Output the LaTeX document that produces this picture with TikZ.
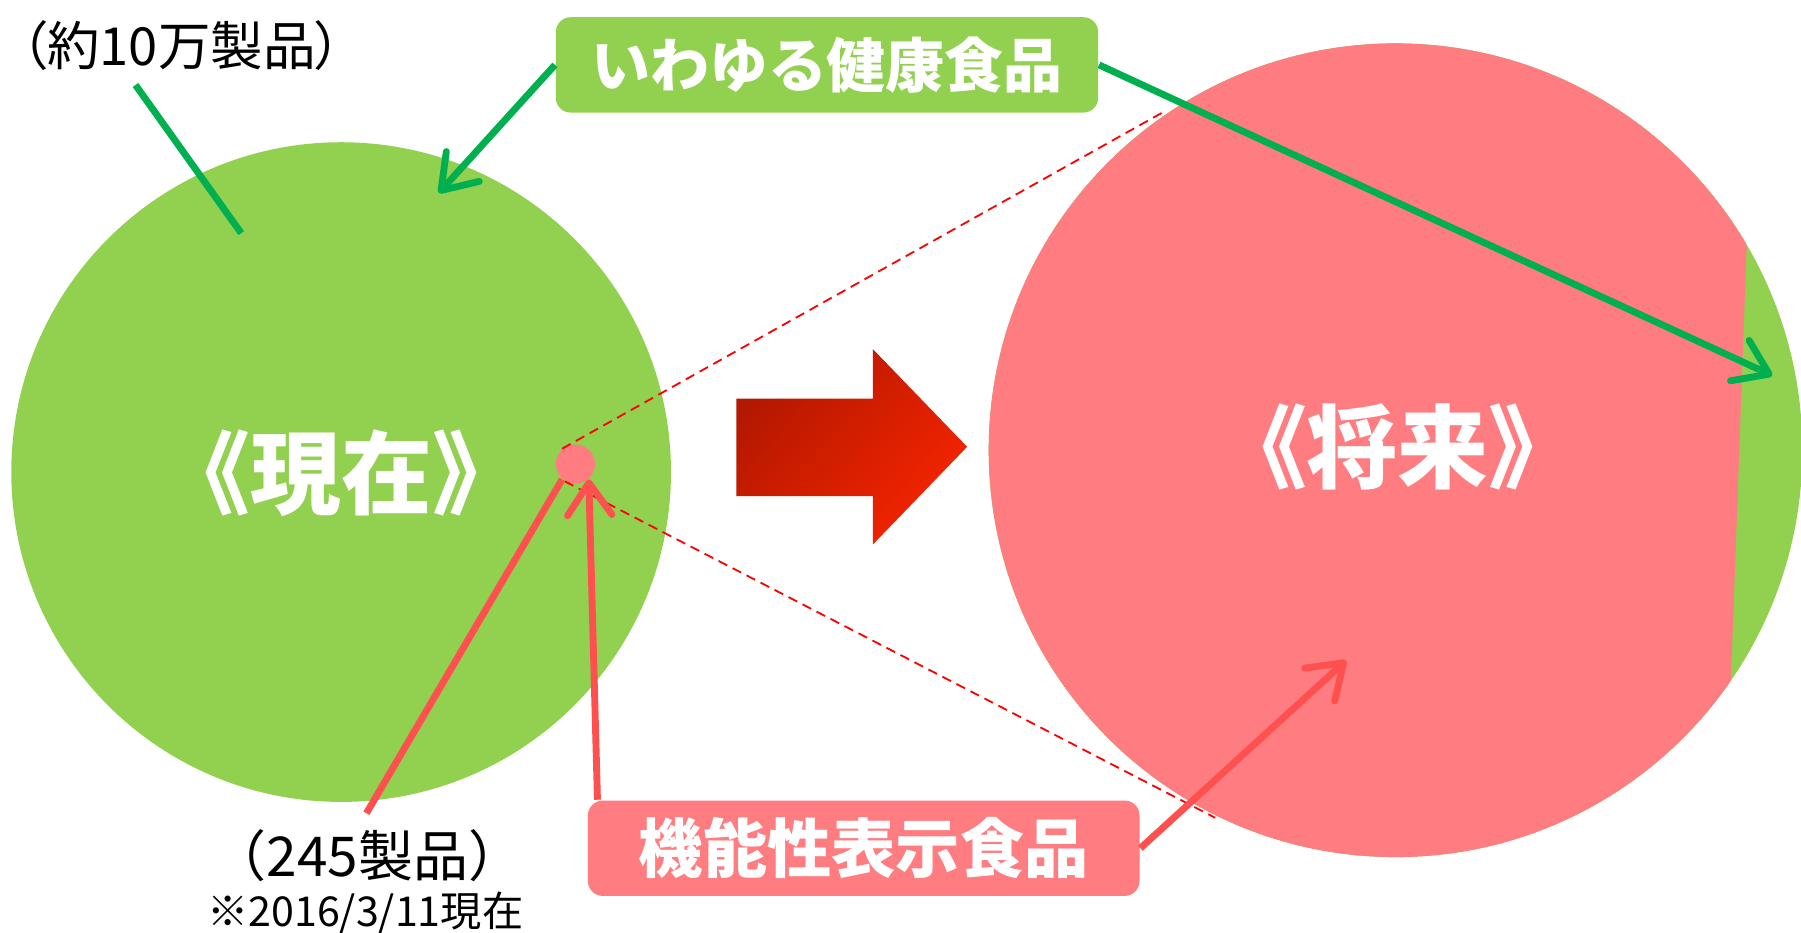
\documentclass[tikz,border=0pt]{standalone}
\usepackage{fontspec}
\setmainfont{Noto Sans CJK JP}
\newfontfamily\paltfont{Noto Sans CJK JP}[RawFeature=+palt]
\usetikzlibrary{arrows.meta}
\definecolor{lgreen}{HTML}{92D050}
\definecolor{dgreen}{HTML}{00B050}
\definecolor{lpink}{HTML}{FF7C80}
\definecolor{pinkline}{HTML}{FF5050}
\definecolor{arrdark}{HTML}{B31800}
\definecolor{arrmid}{HTML}{E01E00}
\definecolor{arrbright}{HTML}{F52400}
\begin{document}
\begin{tikzpicture}[x=0.01cm,y=-0.01cm,
  garrow/.style={draw=dgreen, line width=1.7pt, -{Straight Barb[length=8pt,width=11pt,round]}},
  gline/.style={draw=dgreen, line width=1.7pt},
  parrow/.style={draw=pinkline, line width=1.7pt, -{Straight Barb[length=8pt,width=11pt,round]}},
  pline/.style={draw=pinkline, line width=1.7pt},
  zoomline/.style={draw=red, line width=0.45pt, dash pattern=on 2.4pt off 1.5pt},
  bigtxt/.style={text=white, font=\bfseries\fontsize{22.5pt}{24pt}\selectfont, inner sep=0},
  labbox/.style={rounded corners=0.13cm, minimum height=0.83cm, inner sep=0, text=white},
  note/.style={text=black, inner sep=0}
]
\useasboundingbox (0,0) rectangle (1568,812);
\fill[white] (0,0) rectangle (1568,812);

% left circle (present)
\node[circle, fill=lgreen, minimum size=5.74cm, inner sep=0] (now) at (297,411) {};

% zoom lines (behind the big circle)
\node[circle, fill=lpink, minimum size=0.34cm, inner sep=0] (dot) at (501,404) {};
\coordinate (ue) at (1012,98);
\coordinate (le) at (1058,712);
\draw[zoomline] (dot.131) -- (ue);
\draw[zoomline] (dot.238) -- (le);

% big circle (future)
\fill[lgreen] (1215,392) circle[radius=3.54cm];
\begin{scope}
  \clip (1215,392) circle[radius=3.54cm];
  \fill[lpink] (800,0) -- (1528.5,0) -- (1499,812) -- (800,812) -- cycle;
\end{scope}
\node[circle, minimum size=7.08cm, inner sep=0] (future) at (1215,392) {};

% labels inside circles
\node[bigtxt] (nowlbl) at (297,412) {《現在》};
\node[bigtxt] (futlbl) at (1217,389) {《将来》};

% block arrow
\shade[shading=axis, top color=arrdark, middle color=arrmid, bottom color=arrbright, shading angle=50]
  (641,347) -- (760,347) -- (760,304) -- (842,389) -- (760,474) -- (760,432) -- (641,432) -- cycle;

% notes
\node[note, font=\paltfont\fontsize{13.0pt}{14pt}\selectfont] (n10) at (158,40) {（約10万製品）};
\node[note, font=\fontsize{13.6pt}{14pt}\selectfont] (n245) at (320,745) {（245製品）};
\node[note, font=\fontsize{10.2pt}{11pt}\selectfont] (ndate) at (318,795) {※2016/3/11現在};

% label boxes
\node[labbox, fill=lgreen, minimum width=4.72cm, font=\bfseries\fontsize{14.6pt}{15pt}\selectfont] (health) at (720,56.5) {いわゆる健康食品};
\node[labbox, fill=lpink, minimum width=4.80cm, font=\bfseries\fontsize{15.9pt}{16pt}\selectfont] (func) at (752,738.5) {機能性表示食品};

% connectors
\coordinate (g1s) at (118,74);
\coordinate (g1e) at (210,203);
\draw[gline] (g1s) -- (g1e);
\coordinate (ntip) at (382,168);
\coordinate (gtip) at (1543,327);
\draw[garrow] (health.west) -- (ntip);
\draw[garrow] (health.east) -- (gtip);

\coordinate (c245) at (319,708);
\draw[pline] (c245) -- (dot.229);
\draw[parrow] ([xshift=0.09cm]func.north west) -- (dot.-49);
\coordinate (ptip) at (1172,575);
\draw[parrow] (func.east) -- (ptip);
\end{tikzpicture}
\end{document}
